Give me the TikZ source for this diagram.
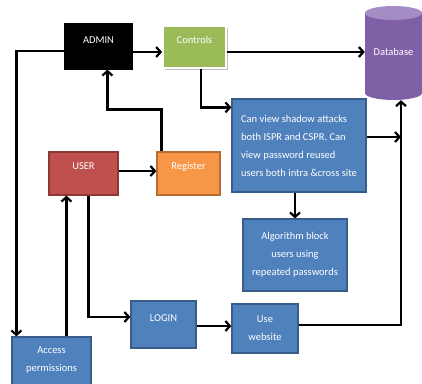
\documentclass[tikz,border=0pt]{standalone}
\usepackage{fontspec}
\setmainfont{Carlito}
\usetikzlibrary{arrows.meta}
\definecolor{bluef}{HTML}{4F81BD}
\definecolor{blueb}{HTML}{385D8A}
\definecolor{redf}{HTML}{C0504D}
\definecolor{redb}{HTML}{8C3836}
\definecolor{orangef}{HTML}{F79646}
\definecolor{orangeb}{HTML}{B66D31}
\definecolor{greenf}{HTML}{9BBB59}
\definecolor{purplef}{HTML}{7F5FA5}
\definecolor{purplet}{HTML}{A48CC4}
\tikzset{
  box/.style={rectangle, line width=1.2pt, inner sep=0pt},
  lbl/.style={text=white, font=\fontsize{10.5}{18}\selectfont, inner sep=0pt, align=center},
  arr/.style={line width=2.2pt, -{Straight Barb[length=4.5pt,width=10pt,line width=2.2pt]}},
}
\begin{document}
\begin{tikzpicture}[x=1pt,y=-1pt]
\useasboundingbox (0,0) rectangle (422,383);
% boxes
\node[box, fill=black, draw=black, minimum width=67pt, minimum height=45pt] (admin) at (98.5,46.5) {};
\node[lbl] (adminT) at ([yshift=6.5pt]admin.center) {ADMIN};
\fill[black!25] (165,28) rectangle (228,70);
\node[box, fill=greenf, draw=white, line width=1.8pt, minimum width=63pt, minimum height=42pt] (controls) at (194.5,47) {};
\node[lbl] (controlsT) at ([yshift=7.5pt]controls.center) {Controls};
\node[box, fill=redf, draw=redb, minimum width=69pt, minimum height=43pt] (user) at (83.5,173.5) {};
\node[lbl] (userT) at ([yshift=7pt]user.center) {USER};
\node[box, fill=orangef, draw=orangeb, minimum width=63pt, minimum height=43pt] (register) at (188.5,173.5) {};
\node[lbl] (registerT) at ([yshift=7pt]register.center) {Register};
\node[box, fill=bluef, draw=blueb, minimum width=134pt, minimum height=93pt] (canview) at (299,145.5) {};
\node[lbl, align=left] (canviewT) at (canview.center) {Can view shadow attacks\\both ISPR and CSPR. Can\\view password reused\\users both intra \&cross site};
\node[box, fill=bluef, draw=blueb, minimum width=104pt, minimum height=72pt] (algo) at (295,255) {};
\node[lbl] (algoT) at (algo.center) {Algorithm block\\users using\\repeated passwords};
\node[box, fill=bluef, draw=blueb, minimum width=65pt, minimum height=47pt] (login) at (163.5,324.5) {};
\node[lbl] (loginT) at ([yshift=6.5pt]login.center) {LOGIN};
\node[box, fill=bluef, draw=blueb, minimum width=66pt, minimum height=49pt] (website) at (265,328.5) {};
\node[lbl] (websiteT) at (website.center) {Use\\website};
\node[box, fill=bluef, draw=blueb, minimum width=79pt, minimum height=50pt] (access) at (51.5,362) {};
\node[lbl] (accessT) at ([yshift=2pt]access.center) {Access\\permissions};
% database cylinder
\fill[purplef] (365,13) -- (365,93) arc[start angle=180,end angle=360,x radius=28.5,y radius=-7] -- (422,13) -- cycle;
\fill[purplet] (393.5,13) ellipse[x radius=28.5, y radius=7];
\node[minimum width=57pt, minimum height=94pt, inner sep=0pt] (db) at (393.5,53) {};
\node[lbl] (dbT) at (393.5,52) {Database};
\coordinate (dbin) at ([xshift=7.5pt]db.south);
% connectors
\draw[arr] ([yshift=-5.5pt]admin.east) -- ([yshift=-5pt]controls.west);
\draw[arr] ([yshift=-5pt]controls.east) -- ([yshift=-5pt]controls.east -| db.west);
\draw[arr] ([yshift=-4.5pt]admin.west) -| ([xshift=5pt]access.north west);
\draw[arr] ([xshift=55pt]access.north west) -- ([xshift=18pt]user.south west);
\draw[arr] ([xshift=40pt]user.south west) |- ([yshift=7.5pt]login.west);
\draw[arr] ([yshift=2.5pt]user.east) -- ([yshift=2.5pt]register.west);
\draw[arr] ([xshift=5pt]register.north west) -- ++(0,-42) -| ([xshift=43pt]admin.south west);
\draw[arr] ([xshift=39pt]controls.south west) |- ([yshift=-9pt]canview.north west);
\draw[arr] ([yshift=8.5pt]canview.east) -- ([yshift=8.5pt]canview.east -| dbin);
\draw[arr] (canview.south -| algo.north) -- (algo.north);
\draw[arr] ([yshift=-1.5pt]login.east) -- ([yshift=-1.5pt]login.east -| website.west);
\draw[arr] ([yshift=3.5pt]website.east) -| (dbin);
\end{tikzpicture}
\end{document}
